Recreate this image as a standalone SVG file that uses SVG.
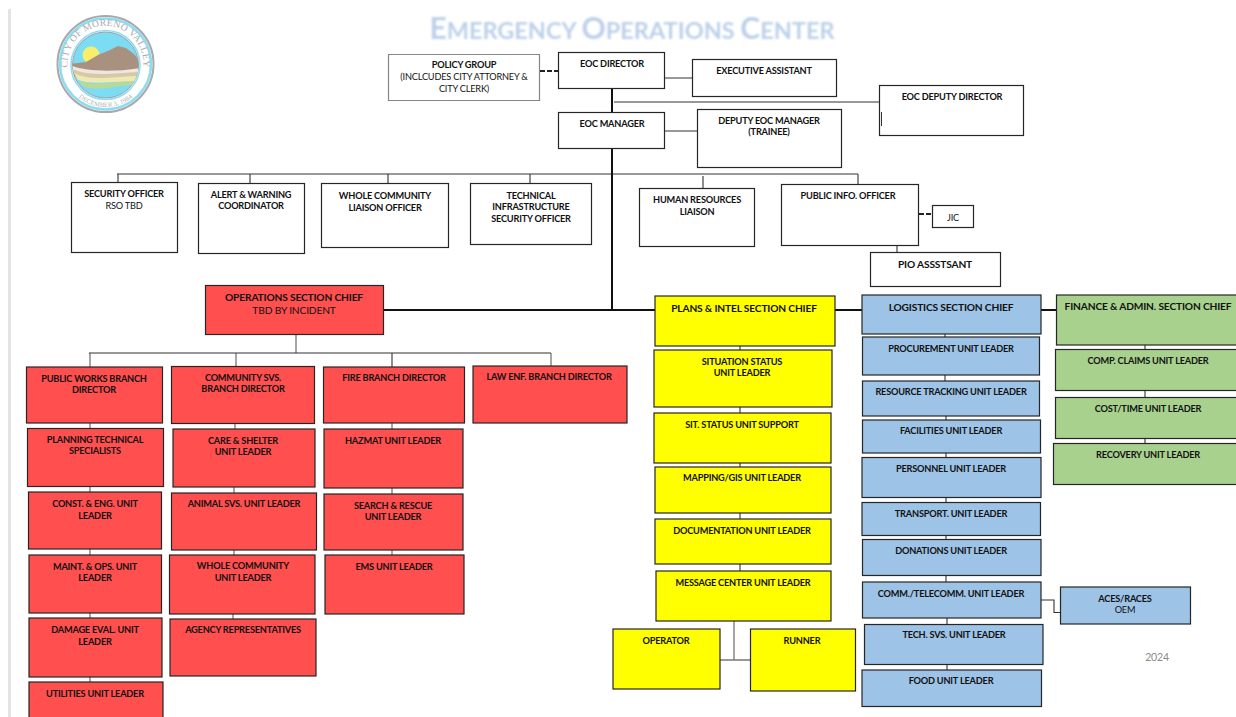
<svg xmlns="http://www.w3.org/2000/svg" width="1236" height="717" viewBox="0 0 1236 717">
<style>
text{font-family:Lato,"Noto Sans",sans-serif;font-size:9.2px;letter-spacing:-.2px;font-weight:700;fill:#111;text-anchor:middle}
.r{font-weight:400}
.b{font-size:10.2px;letter-spacing:-.15px}
.seal{font-family:"Liberation Serif",serif;font-weight:400}
rect{stroke:#262626;stroke-width:1.2}
.w{fill:#fff}.red{fill:#ff4f4f}.y{fill:#ffff00}.bl{fill:#9dc3e6}.g{fill:#a9d18e}
#connectors path{fill:none;stroke:#333;stroke-width:1.1}
#connectors .t{stroke:#111;stroke-width:2}
#connectors .d{stroke:#222;stroke-width:2;stroke-dasharray:5 2}
#connectors .l{stroke:#777;stroke-width:1.3}
</style>
<defs>
<clipPath id="ci"><circle cx="105.5" cy="65" r="33"/></clipPath>
<path id="ta" d="M68 70A38 38 0 1 1 143 70"/>
<path id="tb" d="M70 88.300A43 43 0 0 0 141 88.300"/>
<filter id="soft" x="-5%" y="-30%" width="110%" height="160%"><feGaussianBlur stdDeviation="0.8"/></filter>
</defs>
<rect x="8" y="9" width="3" height="708" fill="#e4e4e4" style="stroke:none"/>
<g id="logo">
<circle cx="105.500" cy="64" r="48" fill="#fff" stroke="#a8a8a8" stroke-width="2"/>
<circle cx="105.500" cy="64" r="45.500" fill="none" stroke="#8fdcf2" stroke-width="2.500"/>
<circle cx="105.500" cy="65" r="34.500" fill="#fff" stroke="#8fdcf2" stroke-width="1.500"/>
<circle cx="105.500" cy="65" r="33" fill="#7bdcf4" stroke="#a0a0a0" stroke-width="1"/>
<g clip-path="url(#ci)">
<circle cx="91" cy="55" r="8.500" fill="#f9ee6c"/>
<path d="M70 64L86 62 98 55 110 50 118 46 126 48 134 54 140 62V76H70Z" fill="#a8917f"/>
<path d="M70 65C85 72 115 72 140 68V74C115 74 90 78 72 70Z" fill="#efe7dc"/>
<path d="M72 69C90 77 115 73 140 72V78C115 76 95 82 74 74Z" fill="#d8c7a8"/>
<path d="M74 73C92 82 115 76 140 76V82C118 80 95 86 78 80Z" fill="#eee9b0"/>
<path d="M78 80C95 88 118 80 140 81V85C120 84 100 92 84 87Z" fill="#b9d99a"/>
</g>
<text class="seal" style="font-size:9.600px;letter-spacing:.3px;fill:#a9a9a9"><textPath href="#ta" startOffset="50%">CITY OF MORENO VALLEY</textPath></text>
<text class="seal" style="font-size:6.500px;letter-spacing:.1px;fill:#b0b0b0"><textPath href="#tb" startOffset="50%">DECEMBER 3, 1984</textPath></text>
</g>
<text id="title" x="632" y="39" filter="url(#soft)" style="font-size:23.500px;letter-spacing:0;fill:#bcd0ea"><tspan style="font-size:30px">E</tspan>MERGENCY <tspan style="font-size:30px">O</tspan>PERATIONS <tspan style="font-size:30px">C</tspan>ENTER</text>
<g id="connectors">
<path class="d" d="M540 71H558M919 214H932"/>
<path d="M665 78H692M614 102H879"/>
<path class="l" d="M665 131H697M117 174H858"/>
<path class="t" d="M612 89V112M612 149V310M384 310H655M835 310H862M1041 310H1056"/>
<path d="M118 174V182M250 174V183M388 174V183M530 174V183M703 176V188M858 174V184M897 245V252"/>
<path class="l" d="M296 335V353M90 353V367M236 353V366M551 353V366"/>
<path d="M89 353H551M392 353V367"/>
<path class="l" d="M90 423V428M90 487V492M90 549V555M90 613V618M90 677V682M235 424V429M234 487V493M234 550V555M233 614V619M392 423V429M392 488V494M392 550V555"/>
<path d="M740 346V350M740 407V413M740 463V467M740 513V519M740 564V571M945 334V337M945 375V381M946 416V420M946 453V457M946 497V502M946 536V539M946 575V582M947 618V624M947 664V670M1145 345V349M1145 391V397M1145 438V443"/>
<path class="l" d="M734 621V660M720 660H750"/>
<path d="M1041 600H1054V612.500H1060"/>
</g>
<g id="n-policy"><rect class="w" x="388.500" y="54.500" width="151" height="46" style="stroke:#111;stroke-dasharray:1 1"/><text x="464" y="68">POLICY GROUP</text><text class="r" x="464" y="80">(INCLCUDES CITY ATTORNEY &amp;</text><text class="r" x="464" y="92">CITY CLERK)</text></g>
<g id="n-director"><rect class="w" x="558.500" y="52.500" width="106" height="36"/><text x="612" y="67">EOC DIRECTOR</text></g>
<g id="n-exec"><rect class="w" x="692.500" y="59.500" width="144" height="37"/><text x="764" y="74">EXECUTIVE ASSISTANT</text></g>
<g id="n-deputy-dir"><rect class="w" x="879.500" y="85.500" width="144" height="50"/><text x="952" y="100">EOC DEPUTY DIRECTOR</text><path d="M881.500 112V126" stroke="#333" stroke-width="1"/></g>
<g id="n-manager"><rect class="w" x="558.500" y="112.500" width="106" height="36"/><text x="612" y="127">EOC MANAGER</text></g>
<g id="n-deputy-mgr"><rect class="w" x="697.500" y="109.500" width="144" height="58"/><text x="769" y="124">DEPUTY EOC MANAGER</text><text x="769" y="135">(TRAINEE)</text></g>
<g id="n-security"><rect class="w" x="71.500" y="182.500" width="106" height="70"/><text x="124" y="197">SECURITY OFFICER</text><text class="r" x="124" y="209">RSO TBD</text></g>
<g id="n-alert"><rect class="w" x="198.500" y="183.500" width="106" height="70"/><text x="251" y="198">ALERT &amp; WARNING</text><text x="251" y="209">COORDINATOR</text></g>
<g id="n-whole"><rect class="w" x="321.500" y="183.500" width="127" height="64"/><text x="385" y="199">WHOLE COMMUNITY</text><text x="385" y="211">LIAISON OFFICER</text></g>
<g id="n-tech"><rect class="w" x="470.500" y="183.500" width="121" height="61"/><text x="531" y="199">TECHNICAL</text><text x="531" y="210">INFRASTRUCTURE</text><text x="531" y="222">SECURITY OFFICER</text></g>
<g id="n-hr"><rect class="w" x="639.500" y="188.500" width="115" height="58"/><text x="697" y="203">HUMAN RESOURCES</text><text x="697" y="215">LIAISON</text></g>
<g id="n-pio"><rect class="w" x="781.500" y="184.500" width="137" height="61"/><text x="848" y="199">PUBLIC INFO. OFFICER</text></g>
<g id="n-jic"><rect class="w" x="932.500" y="205.500" width="41" height="22"/><text class="r" x="953" y="221">JIC</text></g>
<g id="n-pio-asst"><rect class="w" x="870.500" y="252.500" width="130" height="34"/><text class="b" x="935" y="268">PIO ASSSTSANT</text></g>
<g id="n-ops"><rect class="red" x="205.500" y="285.500" width="178" height="49"/><text class="b" x="294" y="301">OPERATIONS SECTION CHIEF</text><text class="r b" x="294" y="314">TBD BY INCIDENT</text></g>
<g id="n-pw"><rect class="red" x="26.500" y="367" width="136" height="56"/><text x="94" y="382">PUBLIC WORKS BRANCH</text><text x="94" y="393">DIRECTOR</text></g>
<g id="n-comm"><rect class="red" x="171.500" y="366.500" width="143" height="57"/><text x="243" y="381">COMMUNITY SVS.</text><text x="243" y="392">BRANCH DIRECTOR</text></g>
<g id="n-fire"><rect class="red" x="323.500" y="367" width="141" height="56"/><text x="394" y="381">FIRE BRANCH DIRECTOR</text></g>
<g id="n-law"><rect class="red" x="473" y="366" width="154" height="57"/><text x="549" y="380">LAW ENF. BRANCH DIRECTOR</text></g>
<g id="n-plan"><rect class="red" x="27.500" y="428.500" width="136" height="58"/><text x="95" y="443">PLANNING TECHNICAL</text><text x="95" y="454">SPECIALISTS</text></g>
<g id="n-care"><rect class="red" x="173" y="429" width="142" height="58"/><text x="243" y="444">CARE &amp; SHELTER</text><text x="243" y="455">UNIT LEADER</text></g>
<g id="n-hazmat"><rect class="red" x="324" y="429" width="139" height="59"/><text x="393" y="444">HAZMAT UNIT LEADER</text></g>
<g id="n-const"><rect class="red" x="28.500" y="492" width="133" height="57"/><text x="95" y="507">CONST. &amp; ENG. UNIT</text><text x="95" y="519">LEADER</text></g>
<g id="n-animal"><rect class="red" x="171.500" y="493" width="145" height="57"/><text x="244" y="507">ANIMAL SVS. UNIT LEADER</text></g>
<g id="n-search"><rect class="red" x="324" y="494" width="139" height="56"/><text x="393" y="509">SEARCH &amp; RESCUE</text><text x="393" y="520">UNIT LEADER</text></g>
<g id="n-maint"><rect class="red" x="29" y="555" width="132.500" height="58"/><text x="95" y="570">MAINT. &amp; OPS. UNIT</text><text x="95" y="581">LEADER</text></g>
<g id="n-wcul"><rect class="red" x="169.500" y="555" width="145.500" height="59"/><text x="243" y="569">WHOLE COMMUNITY</text><text x="243" y="581">UNIT LEADER</text></g>
<g id="n-ems"><rect class="red" x="325" y="555" width="139" height="59"/><text x="394" y="570">EMS UNIT LEADER</text></g>
<g id="n-damage"><rect class="red" x="29" y="618" width="133" height="59"/><text x="95" y="633">DAMAGE EVAL. UNIT</text><text x="95" y="645">LEADER</text></g>
<g id="n-agency"><rect class="red" x="170" y="619" width="146" height="57"/><text x="243" y="633">AGENCY REPRESENTATIVES</text></g>
<g id="n-util"><rect class="red" x="29" y="682" width="134" height="45"/><text x="95" y="697">UTILITIES UNIT LEADER</text></g>
<g id="n-plans"><rect class="y" x="655" y="296" width="180" height="50"/><text class="b" x="744" y="312">PLANS &amp; INTEL SECTION CHIEF</text></g>
<g id="n-sit"><rect class="y" x="654" y="350" width="178" height="57"/><text x="742" y="365">SITUATION STATUS</text><text x="742" y="376">UNIT LEADER</text></g>
<g id="n-sit2"><rect class="y" x="654" y="413" width="177" height="50"/><text x="742" y="428">SIT. STATUS UNIT SUPPORT</text></g>
<g id="n-map"><rect class="y" x="655" y="467" width="176" height="46"/><text x="742" y="481">MAPPING/GIS UNIT LEADER</text></g>
<g id="n-doc"><rect class="y" x="655" y="519" width="176" height="45"/><text x="742" y="534">DOCUMENTATION UNIT LEADER</text></g>
<g id="n-msg"><rect class="y" x="656" y="571" width="175" height="50"/><text x="743" y="586">MESSAGE CENTER UNIT LEADER</text></g>
<g id="n-op"><rect class="y" x="613" y="629" width="107" height="60"/><text x="666" y="644">OPERATOR</text></g>
<g id="n-run"><rect class="y" x="750.500" y="629" width="105" height="62"/><text x="802" y="644">RUNNER</text></g>
<g id="n-log"><rect class="bl" x="862" y="295" width="179" height="39"/><text class="b" x="951" y="311">LOGISTICS SECTION CHIEF</text></g>
<g id="n-proc"><rect class="bl" x="862.500" y="337" width="177" height="38"/><text x="951" y="352">PROCUREMENT UNIT LEADER</text></g>
<g id="n-res"><rect class="bl" x="862.500" y="381" width="177" height="35"/><text x="951" y="395">RESOURCE TRACKING UNIT LEADER</text></g>
<g id="n-fac"><rect class="bl" x="862.500" y="420" width="178" height="33"/><text x="951" y="434">FACILITIES UNIT LEADER</text></g>
<g id="n-pers"><rect class="bl" x="862" y="457.500" width="179" height="40"/><text x="951" y="472">PERSONNEL UNIT LEADER</text></g>
<g id="n-trans"><rect class="bl" x="862" y="502.500" width="178.500" height="33"/><text x="951" y="517">TRANSPORT. UNIT LEADER</text></g>
<g id="n-don"><rect class="bl" x="862.500" y="539.500" width="178.500" height="36"/><text x="951" y="554">DONATIONS UNIT LEADER</text></g>
<g id="n-tele"><rect class="bl" x="862.500" y="582" width="178.500" height="36"/><text x="951" y="597">COMM./TELECOMM. UNIT LEADER</text></g>
<g id="n-tsvc"><rect class="bl" x="864.500" y="624.500" width="178.500" height="40"/><text x="954" y="638">TECH. SVS. UNIT LEADER</text></g>
<g id="n-food"><rect class="bl" x="862" y="670" width="179.500" height="36.500"/><text x="951" y="684">FOOD UNIT LEADER</text></g>
<g id="n-aces"><rect class="bl" x="1060.500" y="587" width="130" height="37"/><text x="1125" y="602">ACES/RACES</text><text class="r" x="1125" y="613">OEM</text></g>
<g id="n-fin"><rect class="g" x="1056.500" y="295" width="190" height="50"/><text class="b" x="1148" y="310">FINANCE &amp; ADMIN. SECTION CHIEF</text></g>
<g id="n-comp"><rect class="g" x="1055.500" y="349.500" width="190" height="41"/><text x="1148" y="364">COMP. CLAIMS UNIT LEADER</text></g>
<g id="n-cost"><rect class="g" x="1055.500" y="397.500" width="190" height="41"/><text x="1148" y="412">COST/TIME UNIT LEADER</text></g>
<g id="n-rec"><rect class="g" x="1053.500" y="443.500" width="190" height="41"/><text x="1148" y="458">RECOVERY UNIT LEADER</text></g>
<text class="r" x="1157" y="661" style="fill:#8a8a8a;font-size:10.500px">2024</text>
</svg>
